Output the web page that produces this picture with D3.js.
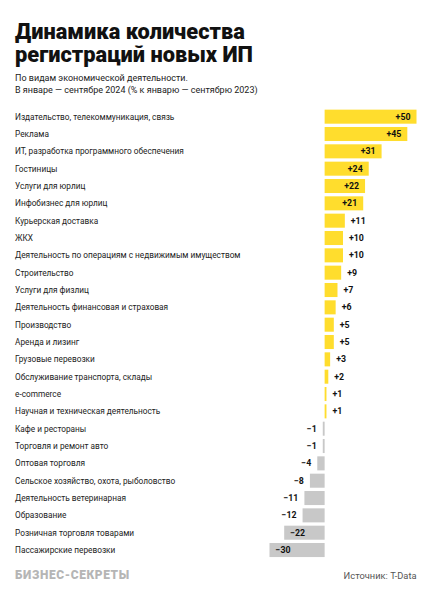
<!DOCTYPE html>
<html>
<head>
<meta charset="utf-8">
<script src="https://cdn.jsdelivr.net/npm/d3@7"></script>
<style>
  body { margin: 0; background: #fff; }
  text { font-family: Roboto, "Noto Sans", sans-serif; }
</style>
</head>
<body>
<svg id="drawing_region"></svg>
<script>
const categories = [
    "Издательство, телекоммуникация, связь",
    "Реклама",
    "ИТ, разработка программного обеспечения",
    "Гостиницы",
    "Услуги для юрлиц",
    "Инфобизнес для юрлиц",
    "Курьерская доставка",
    "ЖКХ",
    "Деятельность по операциям с недвижимым имуществом",
    "Строительство",
    "Услуги для физлиц",
    "Деятельность финансовая и страховая",
    "Производство",
    "Аренда и лизинг",
    "Грузовые перевозки",
    "Обслуживание транспорта, склады",
    "e-commerce",
    "Научная и техническая деятельность",
    "Кафе и рестораны",
    "Торговля и ремонт авто",
    "Оптовая торговля",
    "Сельское хозяйство, охота, рыболовство",
    "Деятельность ветеринарная",
    "Образование",
    "Розничная торговля товарами",
    "Пассажирские перевозки"
];
const values = [50, 45, 31, 24, 22, 21, 11, 10, 10, 9, 7, 6, 5, 5, 3, 2, 1, 1, -1, -1, -4, -8, -11, -12, -22, -30];
const xDomain = [-30, 50];

const title_lines = ["Динамика количества", "регистраций новых ИП"];
const subtitle_lines = [
    "По видам экономической деятельности.",
    "В январе — сентябре 2024 (% к январю — сентябрю 2023)"
];

const width = 431, height = 600;
const svg = d3.select('#drawing_region')
    .attr('width', width)
    .attr('height', height);

// scale a text's font so that its widest line has the wanted width
function fitWidth(sel, base, target) {
    let w = 0;
    sel.each(function () { w = Math.max(w, this.getComputedTextLength()); });
    const fs = base * target / w;
    sel.attr('font-size', fs);
    return fs;
}

// title: one text, two lines
const title = svg.append('text')
    .attr('font-size', 22)
    .attr('font-weight', 900)
    .attr('fill', '#111');
const t0 = title.append('tspan').attr('x', 15).attr('y', 39).text(title_lines[0]);
const tfs = fitWidth(t0, 22, 230);
t0.attr('font-size', null);
title.attr('font-size', tfs);
title.append('tspan').attr('x', 15).attr('y', 39 + 22.5).text(title_lines[1]);

const subtitle = svg.append('g').selectAll('text')
    .data(subtitle_lines)
    .enter()
    .append('text')
    .attr('x', 15)
    .attr('y', (d, i) => 81 + i * 11.5)
    .attr('font-size', 9.5)
    .attr('fill', '#222')
    .text(d => d);
fitWidth(subtitle, 9.5, 243);

const xscale = d3.scaleLinear()
    .domain(xDomain)
    .range([269.5, 416.5]);

const yscale = d3.scaleBand()
    .domain(categories)
    .range([108, 558.7])
    .paddingInner(0.19)
    .paddingOuter(0.095);

const rows = categories.map((c, i) => ({ name: c, value: values[i] }));

const chart = svg.append('g');

// category labels
const cats = chart.selectAll('text.cat')
    .data(rows)
    .enter()
    .append('text')
    .attr('class', 'cat')
    .attr('x', 15)
    .attr('y', d => yscale(d.name) + yscale.bandwidth() / 2)
    .attr('dy', '0.35em')
    .attr('font-size', 9)
    .attr('fill', '#222')
    .text(d => d.name);
fitWidth(cats, 9, 226);

// bars
chart.selectAll('rect')
    .data(rows)
    .enter()
    .append('rect')
    .attr('x', d => xscale(Math.min(0, d.value)))
    .attr('y', d => yscale(d.name))
    .attr('width', d => Math.abs(xscale(d.value) - xscale(0)))
    .attr('height', yscale.bandwidth())
    .attr('fill', d => d.value > 0 ? '#ffdd2d' : '#c8c8c8');

// value labels
const fmt = v => v > 0 ? '+' + v : '\u2212' + Math.abs(v);
const inside = d => Math.abs(d.value) >= 20;

chart.selectAll('text.val')
    .data(rows)
    .enter()
    .append('text')
    .attr('class', 'val')
    .attr('x', d => {
        const end = xscale(d.value);
        if (d.value > 0) return inside(d) ? end - 6 : end + 6;
        return inside(d) ? end + 6 : end - 6;
    })
    .attr('y', d => yscale(d.name) + yscale.bandwidth() / 2)
    .attr('dy', '0.35em')
    .attr('text-anchor', d => {
        if (d.value > 0) return inside(d) ? 'end' : 'start';
        return inside(d) ? 'start' : 'end';
    })
    .attr('font-size', 8.8)
    .attr('font-weight', 700)
    .attr('fill', '#111')
    .text(d => fmt(d.value));

// footer
const brand = svg.append('text')
    .attr('x', 15)
    .attr('y', 579)
    .attr('font-size', 9.5)
    .attr('font-weight', 900)
    .attr('letter-spacing', 0.6)
    .attr('fill', '#b5b5b5')
    .text('БИЗНЕС-СЕКРЕТЫ');
fitWidth(brand, 9.5, 117);

const source = svg.append('text')
    .attr('x', 416.5)
    .attr('y', 579)
    .attr('text-anchor', 'end')
    .attr('font-size', 8.5)
    .attr('fill', '#555')
    .text('Источник: T-Data');
fitWidth(source, 8.5, 73);
</script>
</body>
</html>
